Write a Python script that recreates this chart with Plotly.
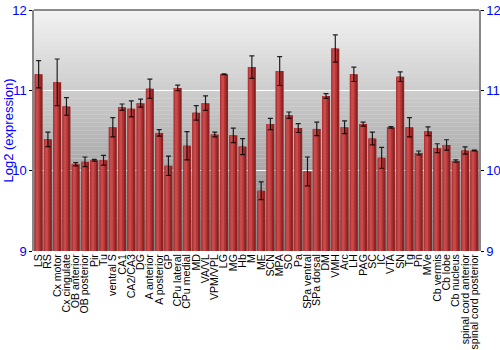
import plotly.graph_objects as go

categories = ["LS", "RS", "Cx motor", "Cx cingulate", "OB anterior", "OB posterior", "Pir", "Tu",
              "ventral S", "CA1", "CA2/CA3", "DG", "A anterior", "A posterior", "GP", "CPu lateral",
              "CPu medial", "MD", "VA/VL", "VPM/VPL", "LG", "MG", "Hb", "M", "ME", "SCN", "MPA", "SO",
              "Pa", "SPa ventral", "SPa dorsal", "DM", "VMH", "Arc", "LH", "PAG", "SC", "IC", "VTA", "SN",
              "Tg", "Pn", "MVe", "Cb vermis", "Cb lobe", "Cb nucleus", "spinal cord anterior",
              "spinal cord posterior"]

values = [11.20, 10.39, 11.10, 10.80, 10.08, 10.11, 10.13, 10.13,
          10.54, 10.79, 10.77, 10.84, 11.02, 10.47, 10.06, 11.03,
          10.31, 10.72, 10.84, 10.45, 11.20, 10.44, 10.30, 11.29, 9.75, 10.58, 11.24, 10.69,
          10.53, 9.99, 10.52, 10.93, 11.52, 10.54, 11.20, 10.58, 10.40, 10.16, 10.54, 11.17,
          10.54, 10.22, 10.49, 10.28, 10.32, 10.12, 10.25, 10.25]

errors = [0.17, 0.09, 0.29, 0.11, 0.02, 0.06, 0.01, 0.06,
          0.12, 0.04, 0.10, 0.05, 0.12, 0.04, 0.12, 0.035,
          0.175, 0.09, 0.09, 0.03, 0.005, 0.09, 0.10, 0.14, 0.11, 0.07, 0.18, 0.04,
          0.055, 0.18, 0.085, 0.03, 0.17, 0.08, 0.09, 0.025, 0.08, 0.13, 0.01, 0.06,
          0.12, 0.025, 0.055, 0.055, 0.065, 0.015, 0.045, 0.005]

y_ticks = [9, 10, 11, 12]
y_range = [9, 12]
base = 9
y_title = "Log2 (expression)"

heights = [v - base for v in values]

fig = go.Figure()

fig.add_trace(go.Bar(x=categories, y=heights, base=base, width=0.86,
                     marker=dict(color="#8e2222", line=dict(width=0)),
                     hoverinfo="skip", showlegend=False))
fig.add_trace(go.Bar(x=categories, y=heights, base=base, width=0.62, offset=-0.43,
                     marker=dict(color="#b23434", line=dict(width=0)),
                     hoverinfo="skip", showlegend=False))
fig.add_trace(go.Bar(x=categories, y=heights, base=base, width=0.30, offset=-0.30,
                     marker=dict(color="#c84a4a", line=dict(width=0)),
                     hoverinfo="skip", showlegend=False))
fig.add_trace(go.Scatter(x=categories, y=values, mode="markers",
                         marker=dict(size=0.1, color="rgba(0,0,0,0)"),
                         error_y=dict(type="data", array=errors, color="rgba(0,0,0,0.85)",
                                      thickness=1.2, width=2.5),
                         hoverinfo="skip", showlegend=False))

n = 60
shapes = []
top_c = (242, 242, 242)
bot_c = (130, 130, 130)
for i in range(n):
    t = i / (n - 1)
    c = tuple(int(round(top_c[k] + (bot_c[k] - top_c[k]) * t)) for k in range(3))
    shapes.append(dict(type="rect", xref="paper", yref="paper",
                       x0=0, x1=1, y0=1 - (i + 1) / n, y1=1 - i / n + 0.001,
                       fillcolor="rgb(%d,%d,%d)" % c, line=dict(width=0), layer="below"))
shapes.append(dict(type="line", xref="paper", yref="paper", x0=0, x1=1, y0=1, y1=1,
                   line=dict(color="#666666", width=1.5)))

fig.update_layout(
    width=500, height=350,
    margin=dict(l=34, r=21, t=10, b=99),
    paper_bgcolor="white",
    plot_bgcolor="rgba(0,0,0,0)",
    barmode="overlay",
    shapes=shapes,
    font=dict(family="Liberation Sans, Arial, sans-serif"),
    xaxis=dict(tickangle=-90, tickfont=dict(size=10.6, color="black"), showgrid=False,
               tickmode="array", tickvals=categories, ticktext=categories,
               ticks="", showline=False, zeroline=False, fixedrange=True, automargin=False,
               range=[-0.5, len(categories) - 0.5]),
    yaxis=dict(range=y_range, tickvals=y_ticks, ticks="outside", ticklen=3, tickcolor="black",
               tickfont=dict(size=13, color="blue"), showgrid=True, gridcolor="white",
               gridwidth=1, showline=True, linecolor="#888888", linewidth=1.5, zeroline=False,
               automargin=False),
    yaxis2=dict(range=y_range, tickvals=y_ticks, ticks="outside", ticklen=3, tickcolor="black",
                tickfont=dict(size=13, color="blue"), overlaying="y", side="right",
                automargin=False,
                showgrid=False, showline=True, linecolor="#888888", linewidth=1.5, zeroline=False),
    annotations=[dict(text=y_title, xref="paper", yref="paper", x=-26 / 445, y=0.5,
                      xanchor="center", yanchor="middle", textangle=-90, showarrow=False,
                      font=dict(size=13, color="blue"))],
)
fig.add_trace(go.Scatter(x=[categories[0]], y=[base], yaxis="y2", mode="markers",
                         marker=dict(color="rgba(0,0,0,0)"), hoverinfo="skip", showlegend=False))

fig.write_html("out.html")
